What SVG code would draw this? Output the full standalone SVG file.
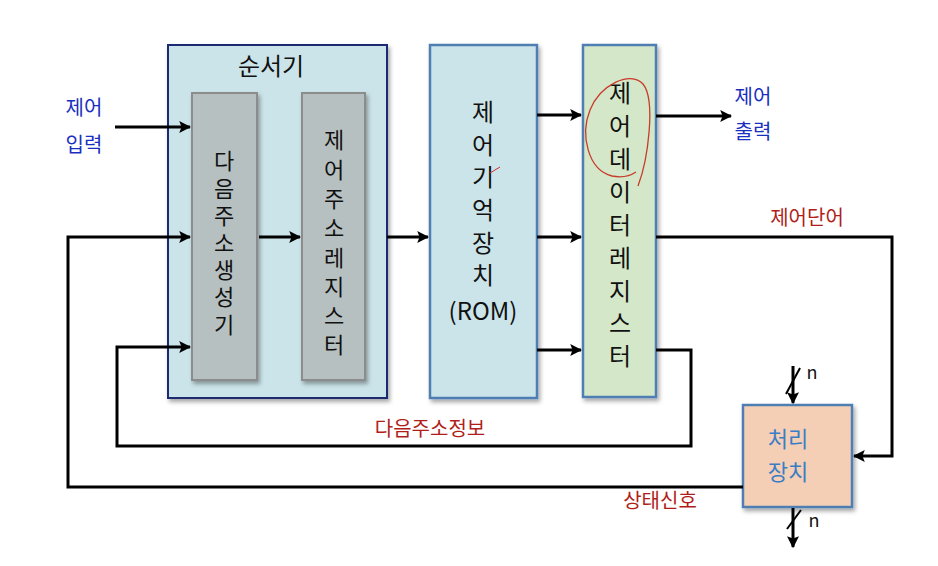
<svg xmlns="http://www.w3.org/2000/svg" width="938" height="566" viewBox="0 0 938 566">
<defs>
<marker id="ah" viewBox="0 0 10 10" refX="9" refY="5" markerWidth="4" markerHeight="4" orient="auto" markerUnits="strokeWidth">
<path d="M0,0 L10,5 L0,10 L2,5 Z" fill="#000"/>
</marker>
<filter id="sh" x="-10%" y="-10%" width="130%" height="130%">
<feDropShadow dx="2" dy="3" stdDeviation="2" flood-color="#000" flood-opacity="0.35"/>
</filter>
<style>
text{font-family:"Noto Sans CJK KR","Noto Sans",sans-serif;text-anchor:middle;dominant-baseline:central}
.v{writing-mode:vertical-rl;text-orientation:upright;text-anchor:start;fill:#111}
.big{font-size:24px;fill:#111}
.blue{font-size:20px;fill:#1a2fc0}
.red{font-size:20px;fill:#b01e1a}
.ln{fill:none;stroke:#000;stroke-width:3}
.ar{fill:none;stroke:#000;stroke-width:3;marker-end:url(#ah)}
</style>
</defs>
<rect width="938" height="566" fill="#fff"/>

<g id="sequencer">
<rect x="168" y="45" width="219" height="353" fill="#cbe4e9" stroke="#1c2a72" stroke-width="2" filter="url(#sh)"/>
<text class="big" x="271" y="64">순서기</text>
</g>

<g id="next-address-generator">
<rect x="192" y="93" width="65" height="287" fill="#b7c0c0" stroke="#8c8c8c" stroke-width="2" filter="url(#sh)"/>
<text class="v" x="224" y="150" style="font-size:22px;letter-spacing:5.2px">다음주소생성기</text>
</g>

<g id="control-address-register">
<rect x="302" y="93" width="63" height="287" fill="#b7c0c0" stroke="#8c8c8c" stroke-width="2" filter="url(#sh)"/>
<text class="v" x="334" y="129" style="font-size:22px;letter-spacing:7.3px">제어주소레지스터</text>
</g>

<g id="rom">
<rect x="430" y="45" width="107" height="353" fill="#cbe4e9" stroke="#4f7fb2" stroke-width="2.5" filter="url(#sh)"/>
<text class="v" x="483" y="100" style="font-size:24px;letter-spacing:8.6px">제어기억장치</text>
<text class="big" x="483" y="309">(ROM)</text>
<path d="M490,173 L500,167" stroke="#d03030" stroke-width="1" fill="none"/>
</g>

<g id="control-data-register">
<rect x="583" y="45" width="73" height="352" fill="#d4e7c8" stroke="#4f7fb2" stroke-width="2.5" filter="url(#sh)"/>
<text class="v" x="620" y="81" style="font-size:24px;letter-spacing:8.9px">제어데이터레지스터</text>
<path d="M638,186 C648,160 656,100 643,84 C630,70 600,85 590,110 C580,135 588,170 612,176 C622,178 630,176 636,172" stroke="#c83a2a" stroke-width="1.3" fill="none"/>
</g>

<g id="processing-unit">
<rect x="743" y="405" width="109" height="102" fill="#f4cfb6" stroke="#4f7fb2" stroke-width="2.5" filter="url(#sh)"/>
<text x="788" y="437" style="font-size:22px;fill:#3b7dc4">처리</text>
<text x="788" y="470" style="font-size:22px;fill:#3b7dc4">장치</text>
</g>

<g id="connectors">
<path class="ar" d="M115,127 L190,127"/>
<path class="ar" d="M743,487 L68,487 L68,237 L190,237"/>
<path class="ar" d="M656,350 L691,350 L691,446 L117,446 L117,347 L190,347"/>
<path class="ar" d="M259,237 L300,237"/>
<path class="ar" d="M387,237 L428,237"/>
<path class="ar" d="M537,115 L581,115"/>
<path class="ar" d="M537,237 L581,237"/>
<path class="ar" d="M537,350 L581,350"/>
<path class="ar" d="M656,116 L731,116"/>
<path class="ar" d="M656,237 L892,237 L892,456 L854,456"/>
<path class="ar" d="M793,366 L793,403"/>
<path class="ln" d="M786,394 L800,368" style="stroke-width:2"/>
<path class="ar" d="M793,508 L793,547"/>
<path class="ln" d="M787,529 L801,510" style="stroke-width:2"/>
</g>

<g id="labels">
<text class="blue" x="84" y="106">제어</text>
<text class="blue" x="84" y="143">입력</text>
<text class="blue" x="753" y="95">제어</text>
<text class="blue" x="753" y="130">출력</text>
<text class="red" x="807" y="216">제어단어</text>
<text class="red" x="430" y="427">다음주소정보</text>
<text class="red" x="660" y="499">상태신호</text>
<text x="812" y="371" style="font-size:18px;fill:#111">n</text>
<text x="814" y="519" style="font-size:18px;fill:#111">n</text>
</g>
</svg>
